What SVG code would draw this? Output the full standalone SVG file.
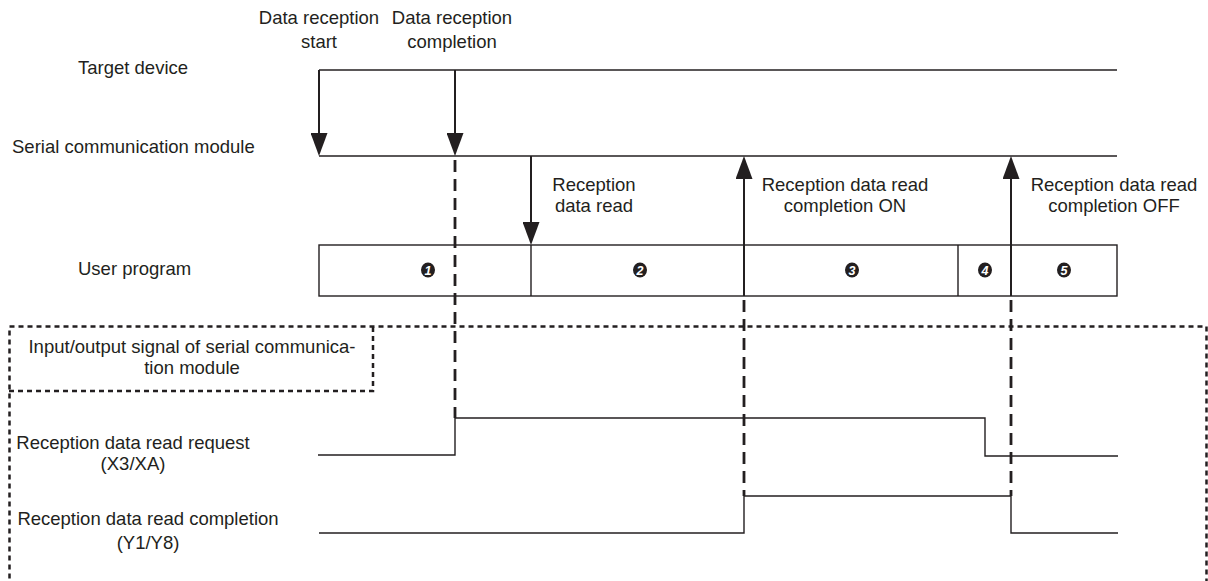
<svg xmlns="http://www.w3.org/2000/svg" width="1208" height="581" viewBox="0 0 1208 581">
<style>
text{font-family:"Liberation Sans",Arial,sans-serif;font-size:18.5px;fill:#231f20}
.m{text-anchor:middle}
.ln{stroke:#231f20;stroke-width:1.5;fill:none}
.sig{stroke:#231f20;stroke-width:1.4;fill:none}
.arr{stroke:#231f20;stroke-width:2;fill:none}
.dash{stroke:#231f20;stroke-width:2.8;stroke-dasharray:12 7;fill:none}
.dot{stroke:#231f20;stroke-width:2.5;stroke-dasharray:5 4;fill:none}
.num{fill:#fff;font-size:12.5px;font-weight:bold;font-style:italic;text-anchor:middle}
</style>
<defs>
<marker id="ah" viewBox="0 0 23 17" refX="15" refY="8.5" markerWidth="23" markerHeight="17" markerUnits="userSpaceOnUse" orient="auto">
<path d="M0,0 L23,8.5 L0,17 z" fill="#231f20"/>
</marker>
</defs>
<g id="frame">
<rect class="dot" x="9.5" y="326.5" width="1197" height="270"/>
<path class="dot" d="M373,327 V391 H9"/>
<text x="192" y="353" class="m">Input/output signal of serial communica-</text>
<text x="192" y="374" class="m">tion module</text>
</g>
<g id="labels">
<text x="319" y="24" class="m">Data reception</text>
<text x="319" y="48" class="m">start</text>
<text x="452" y="24" class="m">Data reception</text>
<text x="452" y="48" class="m">completion</text>
<text x="78" y="74">Target device</text>
<text x="12" y="153">Serial communication module</text>
<text x="78" y="275">User program</text>
<text x="594" y="191" class="m">Reception</text>
<text x="594" y="212" class="m">data read</text>
<text x="845" y="191" class="m">Reception data read</text>
<text x="845" y="212" class="m">completion ON</text>
<text x="1114" y="191" class="m">Reception data read</text>
<text x="1114" y="212" class="m">completion OFF</text>
<text x="133" y="449" class="m">Reception data read request</text>
<text x="133" y="470" class="m">(X3/XA)</text>
<text x="148" y="525" class="m">Reception data read completion</text>
<text x="148" y="549" class="m">(Y1/Y8)</text>
</g>
<g id="target-device"><path class="ln" d="M319,70 H1117"/></g>
<g id="serial-module"><path class="ln" d="M319,156 H1117"/></g>
<g id="user-program">
<rect class="sig" x="319" y="245" width="798" height="51"/>
<path class="sig" d="M531,245 V296 M958,245 V296"/>
<ellipse cx="428" cy="270" rx="7" ry="7.5" fill="#231f20"/><text x="428" y="274.5" class="num">1</text>
<ellipse cx="640" cy="270" rx="7" ry="7.5" fill="#231f20"/><text x="640" y="274.5" class="num">2</text>
<ellipse cx="852" cy="270" rx="7" ry="7.5" fill="#231f20"/><text x="852" y="274.5" class="num">3</text>
<ellipse cx="985" cy="270" rx="7" ry="7.5" fill="#231f20"/><text x="985" y="274.5" class="num">4</text>
<ellipse cx="1064" cy="270" rx="7" ry="7.5" fill="#231f20"/><text x="1064" y="274.5" class="num">5</text>
</g>
<g id="signals">
<path class="sig" d="M318,455 H455 V418 H985 V456 H1118"/>
<path class="sig" d="M319,533 H744 V496 H1011 V533 H1118"/>
</g>
<g id="connectors">
<line class="arr" x1="319" y1="70" x2="319" y2="148" marker-end="url(#ah)"/>
<line class="arr" x1="455" y1="70" x2="455" y2="148" marker-end="url(#ah)"/>
<line class="arr" x1="531" y1="156" x2="531" y2="237" marker-end="url(#ah)"/>
<line class="arr" x1="744" y1="296" x2="744" y2="164" marker-end="url(#ah)"/>
<line class="arr" x1="1011" y1="296" x2="1011" y2="164" marker-end="url(#ah)"/>
<line class="dash" x1="455" y1="160" x2="455" y2="418"/>
<line class="dash" x1="744" y1="300" x2="744" y2="496"/>
<line class="dash" x1="1011" y1="300" x2="1011" y2="496"/>
</g>
</svg>
